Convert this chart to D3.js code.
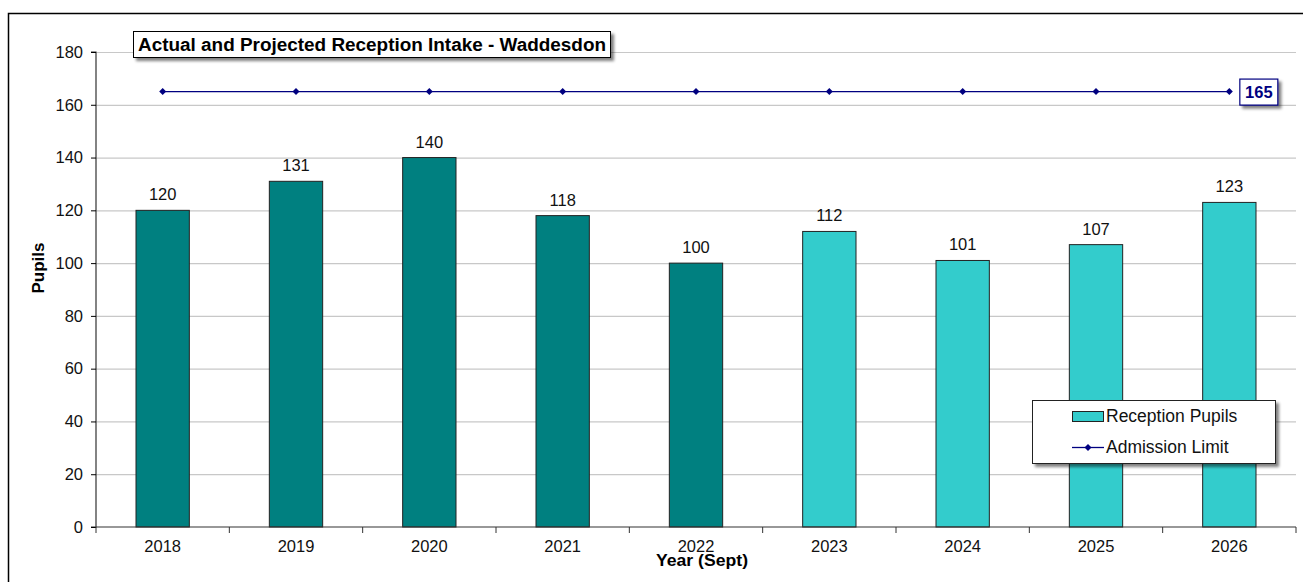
<!DOCTYPE html>
<html>
<head>
<meta charset="utf-8">
<script src="https://cdn.jsdelivr.net/npm/d3@7"></script>
<style>
  body { margin: 0; background: #fff; }
  text { font-family: "Liberation Sans", Arial, sans-serif; }
</style>
</head>
<body>
<div id="chart"></div>
<script>
// data
var years = ["2018", "2019", "2020", "2021", "2022", "2023", "2024", "2025", "2026"];
var pupils = [120, 131, 140, 118, 100, 112, 101, 107, 123];
var projected = [false, false, false, false, false, true, true, true, true];
var admissionLimit = [165, 165, 165, 165, 165, 165, 165, 165, 165];
var yTicks = [0, 20, 40, 60, 80, 100, 120, 140, 160, 180];

var W = 1303, H = 582;
var margin = { top: 52, right: 7, bottom: 55, left: 96 },
    width = W - margin.left - margin.right,
    height = H - margin.top - margin.bottom;

var svg = d3.select("#chart").append("svg")
    .attr("width", W).attr("height", H);

var defs = svg.append("defs");
var f = defs.append("filter").attr("id", "shadow").attr("x", "-10%").attr("y", "-20%").attr("width", "130%").attr("height", "160%");
f.append("feOffset").attr("in", "SourceAlpha").attr("dx", 3).attr("dy", 3).attr("result", "o");
f.append("feGaussianBlur").attr("in", "o").attr("stdDeviation", 1.5).attr("result", "b");
f.append("feComponentTransfer").attr("in", "b").attr("result", "t")
  .append("feFuncA").attr("type", "linear").attr("slope", 0.5);
var fm = f.append("feMerge");
fm.append("feMergeNode").attr("in", "t");
fm.append("feMergeNode").attr("in", "SourceGraphic");

// outer frame
svg.append("rect").attr("x", 8.5).attr("y", 13.5).attr("width", W).attr("height", H)
  .attr("fill", "none").attr("stroke", "#000").attr("stroke-width", 1.5);

var g = svg.append("g").attr("transform", "translate(" + margin.left + "," + margin.top + ")");

var x = d3.scaleBand().domain(years).range([0, width]).paddingInner(0).paddingOuter(0);
var y = d3.scaleLinear().domain([0, 180]).range([height, 0]);

// gridlines
g.selectAll(".grid").data(yTicks.filter(function(d) { return d > 0; })).enter()
  .append("line")
  .attr("x1", 0).attr("x2", width)
  .attr("y1", function(d) { return y(d) + 0.5; }).attr("y2", function(d) { return y(d) + 0.5; })
  .attr("stroke", "#c8c8c8").attr("stroke-width", 1.2);

// bars
var barW = x.bandwidth() * 0.4;
g.selectAll(".bar").data(years).enter().append("rect")
  .attr("x", function(d) { return x(d) + (x.bandwidth() - barW) / 2; })
  .attr("y", function(d, i) { return y(pupils[i]); })
  .attr("width", barW)
  .attr("height", function(d, i) { return height - y(pupils[i]); })
  .attr("fill", function(d, i) { return projected[i] ? "#33CCCC" : "#008080"; })
  .attr("stroke", "#222").attr("stroke-width", 1);

// bar labels
g.selectAll(".lbl").data(years).enter().append("text")
  .attr("x", function(d) { return x(d) + x.bandwidth() / 2; })
  .attr("y", function(d, i) { return y(pupils[i]) - 10; })
  .attr("text-anchor", "middle")
  .style("font-size", "16.5px").attr("fill", "#111")
  .text(function(d, i) { return pupils[i]; });

// admission limit line
var line = d3.line()
  .x(function(d, i) { return x(years[i]) + x.bandwidth() / 2; })
  .y(function(d) { return y(d); });
g.append("path").datum(admissionLimit)
  .attr("fill", "none").attr("stroke", "#000080").attr("stroke-width", 1.3)
  .attr("d", line);
g.selectAll(".mk").data(admissionLimit).enter().append("path")
  .attr("transform", function(d, i) { return "translate(" + (x(years[i]) + x.bandwidth() / 2) + "," + y(d) + ")"; })
  .attr("d", "M0,-3.5L3.5,0L0,3.5L-3.5,0Z")
  .attr("fill", "#000080");

// axes
var yAxis = g.append("g").call(d3.axisLeft(y).tickValues(yTicks).tickSize(5).tickPadding(8));
var xAxis = g.append("g").attr("transform", "translate(0," + height + ")")
  .call(d3.axisBottom(x).tickSize(0).tickPadding(13));
xAxis.selectAll(".tick line").remove();
xAxis.selectAll(".band-tick").data(d3.range(years.length + 1)).enter().append("line")
  .attr("x1", function(i) { return i * x.bandwidth(); })
  .attr("x2", function(i) { return i * x.bandwidth(); })
  .attr("y1", 0).attr("y2", 6).attr("stroke", "#333");
[yAxis, xAxis].forEach(function(a) {
  a.select(".domain").attr("stroke", "#333").attr("stroke-width", 1.2);
  a.selectAll("text").style("font-size", "16.5px").attr("fill", "#111")
    .style("font-family", "'Liberation Sans', Arial, sans-serif");
});
yAxis.select(".domain").attr("d", "M-5," + height + "H0V0H-5");
xAxis.select(".domain").attr("d", "M0,0H" + width);

// axis titles
svg.append("text").attr("transform", "translate(44,268) rotate(-90)")
  .attr("text-anchor", "middle").style("font-size", "17px").style("font-weight", "bold")
  .text("Pupils");
svg.append("text").attr("x", 702).attr("y", 566)
  .attr("text-anchor", "middle").style("font-size", "17px").style("font-weight", "bold")
  .attr("textLength", 92).attr("lengthAdjust", "spacingAndGlyphs")
  .text("Year (Sept)");

// title box
var tg = svg.append("g");
tg.append("rect").attr("x", 133.5).attr("y", 31.5).attr("width", 477).attr("height", 26)
  .attr("fill", "#fff").attr("stroke", "#000").attr("stroke-width", 1)
  .attr("filter", "url(#shadow)");
tg.append("text").attr("x", 372).attr("y", 51).attr("text-anchor", "middle")
  .style("font-size", "17.5px").style("font-weight", "bold")
  .attr("textLength", 468).attr("lengthAdjust", "spacingAndGlyphs")
  .text("Actual and Projected Reception Intake - Waddesdon");

// 165 label
var lx = margin.left + x(years[years.length - 1]) + x.bandwidth() / 2,
    ly = margin.top + y(admissionLimit[admissionLimit.length - 1]);
svg.append("rect").attr("x", lx + 10.5).attr("y", ly - 12.5).attr("width", 38).attr("height", 26)
  .attr("fill", "#fff").attr("stroke", "#000080").attr("stroke-width", 1.2)
  .attr("filter", "url(#shadow)");
svg.append("text").attr("x", lx + 29.5).attr("y", ly + 6.5).attr("text-anchor", "middle")
  .style("font-size", "16.5px").style("font-weight", "bold").attr("fill", "#000080")
  .text(admissionLimit[admissionLimit.length - 1]);

// legend
var lg = svg.append("g").attr("transform", "translate(1032,400)");
lg.append("rect").attr("x", 0.5).attr("y", 0.5).attr("width", 243).attr("height", 63)
  .attr("fill", "#fff").attr("stroke", "#222").attr("stroke-width", 1)
  .attr("filter", "url(#shadow)");
lg.append("rect").attr("x", 40.5).attr("y", 11.5).attr("width", 31).attr("height", 10)
  .attr("fill", "#33CCCC").attr("stroke", "#222");
lg.append("text").attr("x", 74).attr("y", 22).style("font-size", "17.5px").attr("fill", "#111")
  .text("Reception Pupils");
lg.append("line").attr("x1", 40).attr("x2", 72).attr("y1", 47.5).attr("y2", 47.5)
  .attr("stroke", "#000080").attr("stroke-width", 1.3);
lg.append("path").attr("transform", "translate(56,47.5)").attr("d", "M0,-3.5L3.5,0L0,3.5L-3.5,0Z")
  .attr("fill", "#000080");
lg.append("text").attr("x", 74).attr("y", 53).style("font-size", "17.5px").attr("fill", "#111")
  .text("Admission Limit");
</script>
</body>
</html>
